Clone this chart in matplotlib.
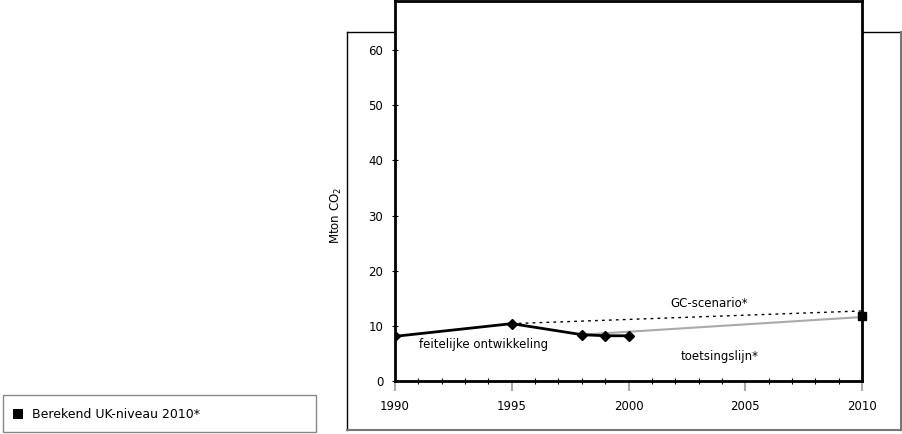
import matplotlib
matplotlib.use("Agg")
import matplotlib.pyplot as plt
from matplotlib.lines import Line2D
from matplotlib.patches import Rectangle

plt.rcParams['font.family'] = ['DejaVu Sans']

years_actual = [1990, 1995, 1998, 1999, 2000]
values_actual = [8.1, 10.4, 8.4, 8.2, 8.2]
years_gc = [1995, 2010]
values_gc = [10.4, 12.7]
years_toets = [1998, 2010]
values_toets = [8.4, 11.6]
uk_year = [2010]
uk_value = [11.8]
xticks = [1990, 1995, 2000, 2005, 2010]
yticks = [0, 10, 20, 30, 40, 50, 60]

W, H = 902, 434
fig = plt.figure(figsize=(W / 100, H / 100), dpi=100)

def fx(px):
    return px / W

def fy(py):
    return 1 - py / H

# outer box (behind the axes)
for xs, ys, c, lw in [
    ([347, 347], [32, 430], 'black', 1),
    ([347, 901], [32, 32], 'black', 1),
    ([347, 901], [430, 430], '#777777', 1.5),
    ([901, 901], [32, 430], '#777777', 1.5),
]:
    fig.add_artist(Line2D([fx(v) for v in xs], [fy(v) for v in ys], color=c, lw=lw,
                          transform=fig.transFigure, zorder=-5))

# legend box
fig.add_artist(Rectangle((fx(3), fy(432)), fx(313), 37 / H, transform=fig.transFigure,
                         facecolor='white', edgecolor='#888888', lw=1))
fig.add_artist(Rectangle((fx(13), fy(419)), 10 / W, 10 / H, transform=fig.transFigure,
                         facecolor='black', edgecolor='black', lw=0))
fig.text(fx(32), fy(414), 'Berekend UK-niveau 2010*', fontsize=9, va='center', ha='left')

ax = fig.add_axes([fx(395), fy(381), fx(862) - fx(395), (381 - 1) / H])
ax.set_facecolor('white')
ax.set_zorder(1)
ax.set_xlim(1990, 2010)
ax.set_ylim(0, 68.9)

ax.plot(years_toets, values_toets, color='#aaaaaa', lw=1.5, zorder=2)
ax.plot(years_gc, values_gc, color='black', lw=1, ls=(0, (2, 3)), zorder=2)
ax.plot(years_actual, values_actual, color='black', lw=2, marker='D', ms=5, zorder=3)
ax.plot(uk_year, uk_value, color='black', marker='s', ms=5.5, ls='none', zorder=4, clip_on=False)

for s in ax.spines.values():
    s.set_linewidth(2)
    s.set_color('black')

ax.set_xticks(xticks)
ax.set_xticks(list(range(1990, 2011)), minor=True)
ax.tick_params(axis='x', which='major', direction='out', length=7, width=1.5, color='#aaaaaa',
               labelsize=8.5, pad=7)
ax.tick_params(axis='x', which='minor', direction='inout', length=5, width=0.8, color='black')
ax.set_yticks(yticks)
ax.tick_params(axis='y', which='major', direction='inout', length=5, width=0.8, color='black',
               labelsize=8.5, pad=6)

ax.set_ylabel('Mton CO$_2$', fontsize=8.5)
ax.yaxis.set_label_coords((344 - 395) / 467, (381 - 215) / 380)

ax.text(2003.45, 12.9, 'GC-scenario*', fontsize=8.5, ha='center', va='bottom')
ax.text(2003.9, 4.5, 'toetsingslijn*', fontsize=8.5, ha='center', va='center')
ax.text(1993.8, 6.7, 'feitelijke ontwikkeling', fontsize=8.5, ha='center', va='center')

fig.savefig('out.png', dpi=100)
